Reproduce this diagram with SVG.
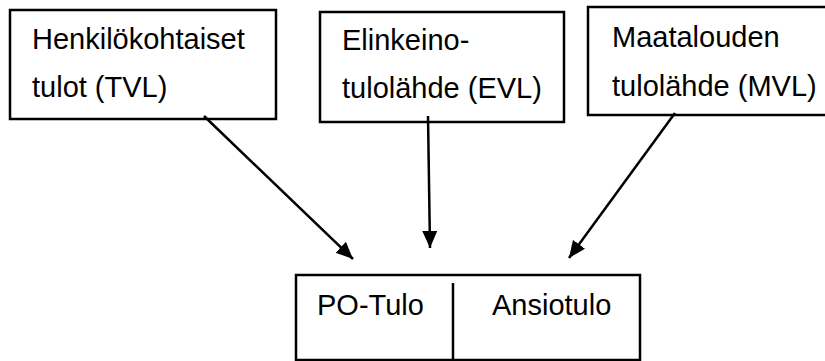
<svg xmlns="http://www.w3.org/2000/svg" width="825" height="361" viewBox="0 0 825 361">
<defs>
<style>
.box{fill:#fff;stroke:#000;stroke-width:2.5}
.t{font-family:"Liberation Sans",Arial,sans-serif;font-size:29px;fill:#000}
.c{stroke:#000;stroke-width:2.5;fill:none}
</style>
<marker id="ah" markerUnits="userSpaceOnUse" markerWidth="18" markerHeight="16" refX="17" refY="7.5" orient="auto">
<path d="M0,0 L17,7.5 L0,15 z" fill="#000"/>
</marker>
</defs>
<rect width="825" height="361" fill="#fff"/>
<g id="n-tvl">
<rect class="box" x="10" y="10" width="266" height="109"/>
<text class="t" x="32" y="49">Henkilökohtaiset</text>
<text class="t" x="32" y="97">tulot (TVL)</text>
</g>
<g id="n-evl">
<rect class="box" x="320" y="12" width="244" height="110"/>
<text class="t" x="342" y="50">Elinkeino-</text>
<text class="t" x="342" y="98">tulolähde (EVL)</text>
</g>
<g id="n-mvl">
<rect class="box" x="588" y="7" width="240" height="108"/>
<text class="t" x="612" y="47">Maatalouden</text>
<text class="t" x="612" y="96">tulolähde (MVL)</text>
</g>
<g id="n-tulo">
<rect class="box" x="296" y="275" width="344" height="85"/>
<line class="c" x1="453" y1="283" x2="453" y2="360"/>
<text class="t" x="317" y="315">PO-Tulo</text>
<text class="t" x="492" y="315">Ansiotulo</text>
</g>
<g id="connectors">
<line class="c" x1="204" y1="116" x2="353" y2="259" marker-end="url(#ah)"/>
<line class="c" x1="428" y1="116" x2="430" y2="248" marker-end="url(#ah)"/>
<line class="c" x1="675" y1="113" x2="569" y2="258" marker-end="url(#ah)"/>
</g>
</svg>
